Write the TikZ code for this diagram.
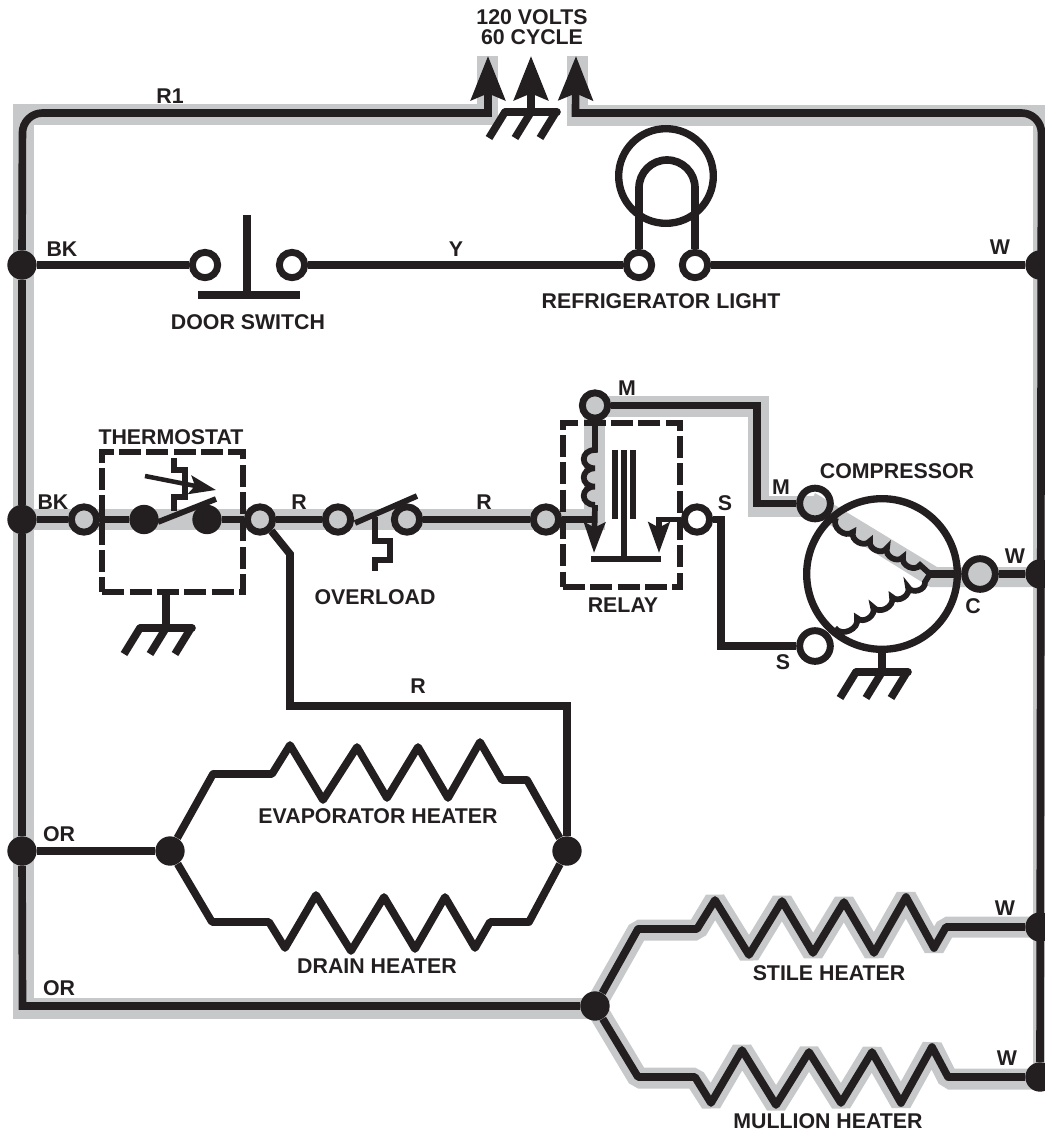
\documentclass[tikz,border=0pt]{standalone}
\usepackage{fontspec}
\setmainfont{Liberation Sans}
\usetikzlibrary{arrows.meta}
\definecolor{wirecol}{HTML}{231F20}
\definecolor{graywire}{HTML}{C7C8CA}
\tikzset{
  wire/.style={draw=wirecol, line width=5.75pt},
  zig/.style={wire, line join=round},
  thin wire/.style={draw=wirecol, line width=4.3pt},
  shade/.style={draw=graywire, line width=15.75pt},
  shadez/.style={shade, line join=bevel},
  term/.style={circle, draw=wirecol, line width=5.2pt, fill=white, minimum size=19pt, inner sep=0pt},
  gterm/.style={term, fill=graywire},
  bigterm/.style={term, minimum size=23pt},
  dot/.style={circle, fill=wirecol, minimum size=22pt, inner sep=0pt},
  dashbox/.style={rectangle, draw=wirecol, line width=4.5pt, dash pattern=on 16.5pt off 4pt, inner sep=0pt},
  lbl/.style={text=wirecol, font=\fontsize{16}{14.6}\selectfont\bfseries, inner sep=0pt, align=center},
  headup/.style={-{Stealth[length=33pt,width=25.5pt,inset=5pt]}},
  headsmall/.style={-{Stealth[length=23pt,width=16pt,inset=4pt]}},
  rake/.pic={
    \draw[wire, line cap=round] (-26,0) -- (26,0);
    \foreach \x in {-26,0,25} \draw[wire] (\x,0) -- ++(-16,26);
  }
}
\begin{document}
\begin{tikzpicture}[x=.75pt, y=-.75pt]
  \clip (0,0) rectangle (1045,1132);

  % gray bands
  \draw[shade] (595,1008) -- (23.5,1008) -- (23.5,114.5) -- (487.5,114.5) -- (487.5,56);
  \draw[shade] (577.5,56) -- (577.5,115) -- (1043.5,115) -- (1043.5,1079);
  \draw[shade] (23,519.5) -- (605,519.5);
  \draw[shade] (594.5,407) -- (594.5,530);
  \draw[shade] (596,406.5) -- (758,406.5) -- (758,506) -- (815,506);
  \fill[graywire] (815,493) -- (937,567) -- (1040,567) -- (1040,587) -- (930,587) -- (917,579) -- (822,520) -- (805,516) -- cycle;
  \draw[shadez] (595,1006) -- (638,930) -- (697,930) -- (715,900) -- (749,955) -- (782,901) -- (813,953) -- (844,902) -- (874,953) -- (906,897) -- (934,948) -- (946,927) -- (1040,927);
  \draw[shadez] (595,1006) -- (638,1078) -- (695,1078) -- (711,1103) -- (742,1050) -- (776,1105) -- (809,1052) -- (841,1103) -- (872,1052) -- (901,1103) -- (932,1047) -- (948,1079) -- (1040,1079);

  % junctions and terminals
  \node[dot] (dotbka) at (22,265) {};
  \node[dot] (dotbkb) at (22,519.5) {};
  \node[dot] (dotora) at (22,851) {};
  \node[dot] (dotwa) at (1040,265) {};
  \node[dot] (dotwb) at (1040,574) {};
  \node[dot] (dotwc) at (1040,927) {};
  \node[dot] (dotwd) at (1040,1077) {};
  \node[dot] (evapl) at (170,851) {};
  \node[dot] (evapr) at (567,851) {};
  \node[dot] (stile) at (595,1006) {};
  \node[term] (doorl) at (205,265) {};
  \node[term] (doorr) at (292,265) {};
  \node[term] (lampl) at (639,265) {};
  \node[term] (lampr) at (695,265) {};
  \node[gterm] (tstatl) at (84,519.5) {};
  \node[dot] (contacta) at (144,519.5) {};
  \node[dot] (contactb) at (207,519.5) {};
  \node[gterm] (tstatr) at (260,519.5) {};
  \node[gterm] (overl) at (338,519.5) {};
  \node[gterm] (overr) at (407,519.5) {};
  \node[gterm] (relayl) at (546,519.5) {};
  \node[gterm] (relaym) at (595,405.5) {};
  \node[term] (relays) at (697,519.5) {};
  \node[bigterm, fill=none] (motm) at (815,503.5) {};
  \node[bigterm] (mots) at (815,646) {};
  \node[bigterm, fill=graywire] (motc) at (980,574) {};
  \node[circle, draw=wirecol, line width=5.5pt, minimum size=113pt] (motor) at (882,574) {};
  \node[circle, draw=wirecol, line width=5.5pt, minimum size=71pt] (bulb) at (666,176) {};

  % supply
  \coordinate (tipl) at (488,56);
  \coordinate (tipg) at (531,56);
  \coordinate (tipr) at (576,56);
  \coordinate (gndsup) at (531,112);
  \draw[wire] (stile) -- (22.5,1006) -- (dotora);
  \draw[wire] (dotora) -- (dotbkb);
  \draw[wire] (dotbkb) -- (dotbka);
  \draw[wire, headup, rounded corners=15pt] (dotbka) -- (22.5,113) [sharp corners] -- (488,113) -- (tipl);
  \draw[wire, headup] (gndsup) -- (tipg);
  \draw[wire, headup, rounded corners=15pt] (dotwd) -- (1041.5,113) [sharp corners] -- (575.5,113) -- (tipr);
  \pic at (gndsup) {rake};

  % door switch and light
  \draw[wire] (dotbka) -- (doorl);
  \draw[wire] (doorr) -- (lampl);
  \draw[wire] (lampr) -- (dotwa);
  \draw[wire] (247,215) -- (247,295);
  \draw[wire] (198,295) -- (300,295);
  \draw[wire] (lampl) -- (639,188) arc[start angle=180, end angle=360, radius=28] -- (lampr);

  % thermostat
  \draw[wire] (dotbkb) -- (tstatl);
  \draw[wire] (tstatl) -- (contacta);
  \draw[wire] (contactb) -- (tstatr);
  \draw[thin wire] (158,522) -- (216,499);
  \draw[thin wire] (174,511) -- (174,497) -- (185,497) -- (185,470) -- (174,470) -- (174,458);
  \draw[thin wire, line width=3.4pt, -{Stealth[length=20pt,width=14pt,inset=4pt]}] (145,476) -- (216,490);
  \node[dashbox, minimum width=105.5pt, minimum height=105pt] (tstatbox) at (172.5,522) {};
  \coordinate (gndts) at (166,628);
  \draw[wire] (gndts) -- (gndts |- tstatbox.south);
  \pic at (gndts) {rake};

  % overload
  \draw[wire] (tstatr) -- (overl);
  \draw[wire] (overr) -- (relayl);
  \draw[thin wire] (355,523) -- (417,496);
  \draw[thin wire] (375,517) -- (375,541) -- (390,541) -- (390,560) -- (375,560) -- (375,571);

  % relay
  \node[dashbox, minimum width=87.75pt, minimum height=123pt] (relaybox) at (621.5,505) {};
  \coordinate (coilend) at (595,505);
  \draw[thin wire] (relaym) -- (595,450) foreach \i in {1,2,3} { .. controls +(-15,0) and +(-15,0) .. ++(0,18.3) };
  \draw[thin wire, headsmall] (coilend) -- (594,553);
  \draw[wire] (relayl) -- (595,519.5);
  \draw[thin wire, headsmall] (relays) -- (659,519.5) -- (659,553);
  \draw[thin wire] (591,559) -- (661,559);
  \draw[thin wire] (624,450) -- (624,559);
  \draw[thin wire] (615,450) -- (615,519);
  \draw[thin wire] (633,450) -- (633,519);
  \draw[wire] (relaym) -- (757,405.5) -- (757,503.5) -- (motm);
  \draw[wire] (relays) -- (721,519.5) -- (721,646) -- (mots);

  % compressor
  \draw[thin wire] (836,518) foreach \x/\y in {853/532,870/541,887/548,903/557,920/565} { to[bend right=80, looseness=1.2] (\x,\y) } -- (930,574);
  \draw[thin wire] (835,628) foreach \x/\y in {857/618,873/607,892/597,908/587,925/582} { to[bend right=80, looseness=1.2] (\x,\y) } -- (930,574);
  \draw[wire] (930,574) -- (motc);
  \draw[wire] (motc) -- (dotwb);
  \coordinate (gndmot) at (882,672);
  \draw[wire] (gndmot) -- (motor.south);
  \pic at (gndmot) {rake};

  % heaters
  \draw[wire] (tstatr.south east) -- (290,554) -- (290,706) -- (567,706) -- (evapr);
  \draw[wire] (dotora) -- (evapl);
  \draw[zig] (evapl) -- (213,774) -- (272,774) -- (290,745) -- (323,800) -- (357,747) -- (387,798) -- (418,747) -- (448,798) -- (480,742) -- (502,780) -- (527,780) -- (evapr);
  \draw[zig] (evapl) -- (212,922) -- (269,922) -- (285,948) -- (316,895) -- (351,951) -- (384,897) -- (415,949) -- (445,897) -- (475,948) -- (490,922) -- (529,922) -- (evapr);
  \draw[zig] (stile) -- (638,929) -- (697,929) -- (715,900) -- (749,955) -- (782,901) -- (813,953) -- (844,902) -- (874,953) -- (906,897) -- (934,948) -- (946,927) -- (dotwc);
  \draw[zig] (stile) -- (638,1077) -- (695,1077) -- (711,1103) -- (742,1050) -- (776,1105) -- (809,1052) -- (841,1103) -- (872,1052) -- (901,1103) -- (932,1047) -- (948,1077) -- (dotwd);

  % labels
  \node[lbl] (voltslbl) at (532,27) {120 VOLTS\\60 CYCLE};
  \node[lbl] (rlbla) at (170,96) {R1};
  \node[lbl] (bklbla) at (62,249) {BK};
  \node[lbl] (ylbl) at (456,249) {Y};
  \node[lbl] (wlbla) at (1000,247) {W};
  \node[lbl] (doorlbl) at (248,322) {DOOR SWITCH};
  \node[lbl] (lamplbl) at (661,301) {REFRIGERATOR LIGHT};
  \node[lbl] (tstatlbl) at (171,437) {THERMOSTAT};
  \node[lbl] (bklblb) at (53,502) {BK};
  \node[lbl] (rlblb) at (299,502) {R};
  \node[lbl] (rlblc) at (484,502) {R};
  \node[lbl] (overlbl) at (375,597) {OVERLOAD};
  \node[lbl] (mlbla) at (627,388) {M};
  \node[lbl] (slbla) at (725,503) {S};
  \node[lbl] (relaylbl) at (623,605) {RELAY};
  \node[lbl] (complbl) at (897,471) {COMPRESSOR};
  \node[lbl] (mlblb) at (781,487) {M};
  \node[lbl] (slblb) at (783,662) {S};
  \node[lbl] (clbl) at (973,606) {C};
  \node[lbl] (wlblb) at (1015,556) {W};
  \node[lbl] (rlbld) at (418,686) {R};
  \node[lbl] (orlbla) at (59,834) {OR};
  \node[lbl] (orlblb) at (59,988) {OR};
  \node[lbl] (evaplbl) at (378,816) {EVAPORATOR HEATER};
  \node[lbl] (drainlbl) at (377,966) {DRAIN HEATER};
  \node[lbl] (wlblc) at (1005,908) {W};
  \node[lbl] (wlbld) at (1007,1058) {W};
  \node[lbl] (stilelbl) at (829,973) {STILE HEATER};
  \node[lbl] (mullionlbl) at (828,1121) {MULLION HEATER};
\end{tikzpicture}
\end{document}
